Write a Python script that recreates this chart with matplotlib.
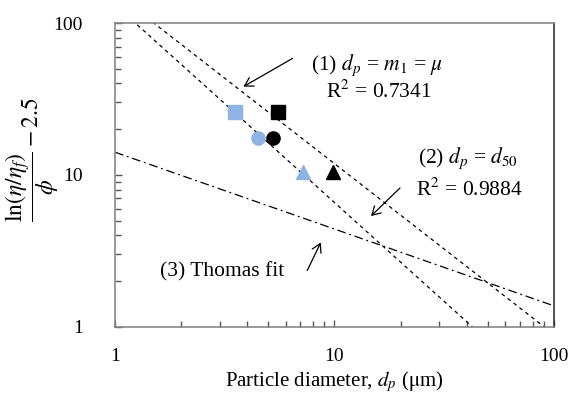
import numpy as np
import matplotlib
matplotlib.use("Agg")
import matplotlib.pyplot as plt

plt.rcParams["font.family"] = ["Liberation Serif", "DejaVu Serif"]
plt.rcParams["mathtext.fontset"] = "stix"

# measured points (d_p in um, y value)
d50_x = [3.52, 4.50, 7.16]       # blue: d_p = d50
d50_y = [25.8, 17.5, 10.5]
mu_x = [5.51, 5.23, 9.88]        # black: d_p = m1 = mu
mu_y = [26.0, 17.5, 10.5]
markers = ["s", "o", "^"]

# trend lines: y = a * x**b
fit_mu = (158.0, -1.125)      # (1) d_p = m1 = mu
fit_d50 = (132.0, -1.303)     # (2) d_p = d50
fit_thomas = (14.1, -0.506)   # (3) Thomas fit

blue = "#8DB4E2"

fig = plt.figure(figsize=(5.74, 3.94), dpi=100)
ax = fig.add_axes([0.2003, 0.1708, 0.7649, 0.7708])

xs = np.logspace(0, 2, 200)
ax.plot(xs, fit_mu[0] * xs ** fit_mu[1], color="black", lw=0.9, ls=(0, (3, 3)))
ax.plot(xs, fit_d50[0] * xs ** fit_d50[1], color="black", lw=0.9, ls=(0, (3, 3)))
ax.plot(xs, fit_thomas[0] * xs ** fit_thomas[1], color="black", lw=0.9,
        ls=(0, (7, 3, 1.5, 3)))

for m, x, y in zip(markers, d50_x, d50_y):
    ax.plot(x, y, m, color=blue, ms=9.5, mec=blue, zorder=5)
for m, x, y in zip(markers, mu_x, mu_y):
    ax.plot(x, y, m, color="black", ms=9.5, zorder=5)

ax.set_xscale("log")
ax.set_yscale("log")
ax.set_xlim(1, 100)
ax.set_ylim(1, 100)
ax.set_xticks([1, 10, 100])
ax.set_xticklabels(["1", "10", "100"])
ax.set_yticks([1, 10, 100])
ax.set_yticklabels(["1", "10", "100"])
ax.tick_params(which="major", direction="in", length=5, width=1, color="#555555",
               labelsize=14)
ax.tick_params(axis="x", which="major", pad=15)
ax.tick_params(axis="y", which="major", pad=23)
ax.tick_params(which="minor", direction="in", length=4, width=1, color="#555555")
ax.tick_params(axis="x", which="minor", labelbottom=False)
ax.tick_params(axis="y", which="minor", labelleft=False)

for s in ["left", "bottom", "top"]:
    ax.spines[s].set_color("#878787")
    ax.spines[s].set_linewidth(1.2)
ax.spines["right"].set_color("#333333")
ax.spines["right"].set_linewidth(1.2)

ax.set_xlabel(r"Particle diameter, $d_p$ ($\mathrm{\mu}$m)", fontsize=15, labelpad=3)
fig.text(32 / 574, 1 - 160 / 394, r"$\dfrac{\ln(\eta/\eta_f)}{\phi} - 2.5$",
         rotation=90, ha="center", va="center", fontsize=17)

def px(x, y):
    # figure pixel -> figure fraction
    return (x / 574, 1 - y / 394)

tk = dict(fontsize=15.5, ha="center", va="center", transform=fig.transFigure)
fig.text(*px(377, 65), r"(1) $d_p$ = $m_1$ = $\mu$", **tk)
fig.text(*px(379, 92), r"R$^2$ = 0.7341", **tk)
fig.text(*px(468, 158), r"(2) $d_p$ = $d_{50}$", **tk)
fig.text(*px(469, 190), r"R$^2$ = 0.9884", **tk)
fig.text(*px(222, 272), "(3) Thomas fit", **tk)

arrows = [((295, 57), (241, 88)), ((402, 186), (369, 218)), ((306, 273), (322, 240))]
for tail, head in arrows:
    fig.add_artist(matplotlib.patches.FancyArrowPatch(
        px(*tail), px(*head), transform=fig.transFigure,
        arrowstyle="->,head_length=6,head_width=3.5", color="black", lw=0.9,
        mutation_scale=1))

fig.savefig("out.png", dpi=100)
